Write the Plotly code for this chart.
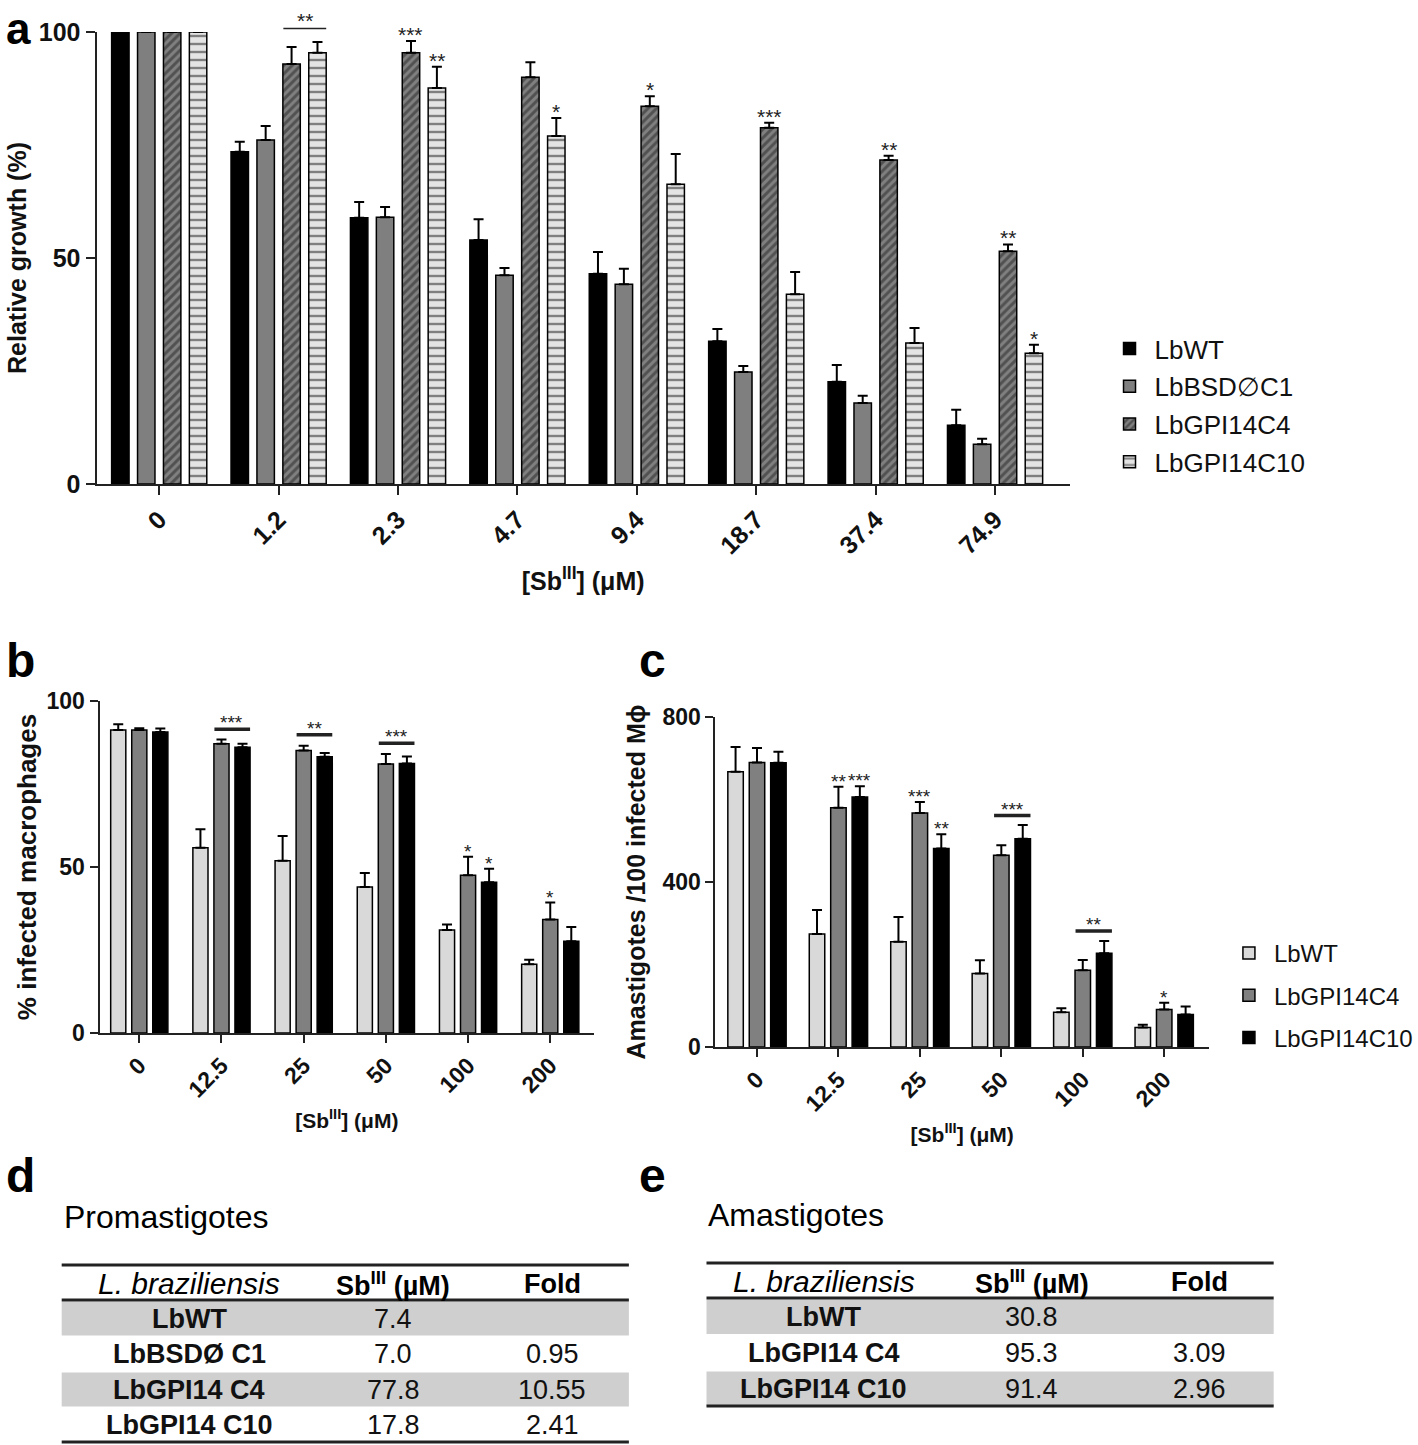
import plotly.graph_objects as go

# ---------------- data ----------------
# Panel a: relative growth of promastigotes
conc_a = ["0", "1.2", "2.3", "4.7", "9.4", "18.7", "37.4", "74.9"]
names_a = ["LbWT", "LbBSD\u2205C1", "LbGPI14C4", "LbGPI14C10"]
wt_a = [100, 73.5, 58.9, 54.0, 46.5, 31.6, 22.6, 13.0]
wt_a_err = [0, 2.2, 3.5, 4.6, 4.8, 2.7, 3.7, 3.4]
bsd_a = [100, 76.1, 59.0, 46.2, 44.2, 24.8, 17.9, 8.8]
bsd_a_err = [0, 3.1, 2.3, 1.6, 3.4, 1.3, 1.6, 1.2]
c4_a = [100, 92.9, 95.4, 90.0, 83.6, 78.8, 71.7, 51.5]
c4_a_err = [0, 3.8, 2.6, 3.3, 2.2, 1.1, 0.9, 1.5]
c10_a = [100, 95.4, 87.6, 77.0, 66.3, 42.0, 31.2, 28.9]
c10_a_err = [0, 2.4, 4.7, 4.0, 6.7, 4.9, 3.3, 1.9]
# significance stars: (group index, series index, label)
stars_a = [(2, 2, "***"), (2, 3, "**"), (3, 3, "*"), (4, 2, "*"),
           (5, 2, "***"), (6, 2, "**"), (7, 2, "**"), (7, 3, "*")]
# significance brackets: (group index, first series, last series, height, label)
brackets_a = [(1, 2, 3, 100.8, "**")]

# Panel b: % infected macrophages
conc_bc = ["0", "12.5", "25", "50", "100", "200"]
names_bc = ["LbWT", "LbGPI14C4", "LbGPI14C10"]
wt_b = [91.3, 55.8, 51.9, 44.0, 31.0, 20.7]
wt_b_err = [1.7, 5.6, 7.4, 4.2, 1.7, 1.4]
c4_b = [91.3, 87.1, 85.1, 81.0, 47.5, 34.2]
c4_b_err = [0.5, 1.3, 1.4, 3.0, 5.6, 5.1]
c10_b = [90.7, 86.1, 83.2, 81.2, 45.4, 27.6]
c10_b_err = [1.0, 1.0, 1.1, 2.1, 4.1, 4.3]
stars_b = [(4, 1, "*"), (4, 2, "*"), (5, 1, "*")]
brackets_b = [(1, 1, 2, 91.5, "***"), (2, 1, 2, 89.8, "**"), (3, 1, 2, 87.3, "***")]

# Panel c: amastigotes / 100 infected macrophages
wt_c = [667, 274, 255, 178, 84, 47]
wt_c_err = [60, 58, 60, 32, 10, 7]
c4_c = [690, 580, 567, 465, 186, 91]
c4_c_err = [35, 51, 27, 24, 25, 16]
c10_c = [689, 606, 481, 505, 227, 79]
c10_c_err = [27, 26, 35, 33, 30, 19]
stars_c = [(1, 1, "**"), (1, 2, "***"), (2, 1, "***"), (2, 2, "**"), (5, 1, "*")]
brackets_c = [(3, 1, 2, 561, "***"), (4, 1, 2, 281, "**")]

# Tables d and e
tab_header = ["<i>L. braziliensis</i>", "<b>Sb<sup>III</sup> (\u00b5M)</b>", "<b>Fold</b>"]
tab_d_strain = ["LbWT", "LbBSD\u00d8 C1", "LbGPI14 C4", "LbGPI14 C10"]
tab_d_sb = ["7.4", "7.0", "77.8", "17.8"]
tab_d_fold = ["", "0.95", "10.55", "2.41"]
tab_e_strain = ["LbWT", "LbGPI14 C4", "LbGPI14 C10"]
tab_e_sb = ["30.8", "95.3", "91.4"]
tab_e_fold = ["", "3.09", "2.96"]

# ---------------- style ----------------
FONT = "Liberation Sans Narrow, Liberation Sans, Arial, sans-serif"
FONT_W = "Liberation Sans, Arial, sans-serif"
W, H = 1418, 1445

fig = go.Figure()

styles_a = [
    dict(color="#000000"),
    dict(color="#7f7f7f"),
    dict(color="#808080", pattern=dict(shape="/", fgcolor="#222222", bgcolor="#808080", size=6, solidity=0.5)),
    dict(color="#e4e4e4", pattern=dict(shape="-", fgcolor="#1a1a1a", bgcolor="#e4e4e4", size=8, solidity=0.3)),
]
styles_bc = [dict(color="#d9d9d9"), dict(color="#808080"), dict(color="#000000")]

# axis geometry (paper px)
GEOM = {
    "a": dict(x0=97, x1=1075, ytop=32, ybot=484, xr=[-0.525, 7.625], yr=[0, 100]),
    "b": dict(x0=100, x1=597, ytop=701, ybot=1033, xr=[-0.484, 5.533], yr=[0, 100]),
    "c": dict(x0=719, x1=1215, ytop=717, ybot=1047, xr=[-0.51, 5.55], yr=[0, 800]),
}


def add_panel(series, errs, names, styles, xa, ya, pitch, width, legend, showlegend):
    n = len(series)
    for i, (vals, er, nm, st) in enumerate(zip(series, errs, names, styles)):
        centre = (i - (n - 1) / 2) * pitch
        fig.add_trace(go.Bar(
            x=list(range(len(vals))), y=vals, name=nm,
            width=width, offset=centre - width / 2,
            marker=dict(line=dict(color="#000000", width=1.5), **st),
            error_y=dict(type="data", array=er, arrayminus=[0] * len(er), symmetric=False,
                         color="#000000", thickness=2, width=5),
            xaxis=xa, yaxis=ya, legend=legend, showlegend=showlegend,
            legendgroup=nm + legend,
        ))


def add_sig(series, errs, stars, brackets, n, pitch, width, xa, ya, geom, fsize, lw):
    ymax = geom["yr"][1]
    px_per = (geom["ybot"] - geom["ytop"]) / (geom["yr"][1] - geom["yr"][0])

    def clamp(v):
        # keep anchor inside the axis range, shift the rest in pixels
        if v > ymax:
            return ymax, (v - ymax) * px_per
        return v, 0

    for g, s, lab in stars:
        centre = g + (s - (n - 1) / 2) * pitch
        yv, sh = clamp(series[s][g] + errs[s][g])
        fig.add_annotation(x=centre, y=yv, xref=xa, yref=ya,
                           text=lab, showarrow=False, yanchor="bottom", yshift=sh - 7,
                           font=dict(family=FONT_W, size=fsize, color="#222"))
    for g, s0, s1, h, lab in brackets:
        x0 = g + (s0 - (n - 1) / 2) * pitch - width / 2
        x1 = g + (s1 - (n - 1) / 2) * pitch + width / 2
        yv, sh = clamp(h)
        fig.add_annotation(x=x1, y=yv, ax=x0, ay=yv, xref=xa, yref=ya, axref=xa, ayref=ya,
                           text="", showarrow=True, arrowhead=0, arrowwidth=lw,
                           arrowcolor="#222", standoff=0, startstandoff=0, borderpad=0,
                           yshift=sh)
        fig.add_annotation(x=(x0 + x1) / 2, y=yv, xref=xa, yref=ya, text=lab,
                           showarrow=False, yanchor="bottom", yshift=sh - 6,
                           font=dict(family=FONT_W, size=fsize, color="#222"))


# Panel a
P_A, W_A = 0.217, 0.146
ser_a = [wt_a, bsd_a, c4_a, c10_a]
err_a = [wt_a_err, bsd_a_err, c4_a_err, c10_a_err]
add_panel(ser_a, err_a, names_a, styles_a, "x", "y", P_A, W_A, "legend", True)
add_sig(ser_a, err_a, stars_a, brackets_a, 4, P_A, W_A, "x", "y", GEOM["a"], 21, 1.5)

# Panel b
P_B, W_B = 0.256, 0.184
ser_b = [wt_b, c4_b, c10_b]
err_b = [wt_b_err, c4_b_err, c10_b_err]
add_panel(ser_b, err_b, names_bc, styles_bc, "x2", "y2", P_B, W_B, "legend", False)
add_sig(ser_b, err_b, stars_b, brackets_b, 3, P_B, W_B, "x2", "y2", GEOM["b"], 19, 3.5)

# Panel c
P_C, W_C = 0.263, 0.19
ser_c = [wt_c, c4_c, c10_c]
err_c = [wt_c_err, c4_c_err, c10_c_err]
add_panel(ser_c, err_c, names_bc, styles_bc, "x3", "y3", P_C, W_C, "legend2", True)
add_sig(ser_c, err_c, stars_c, brackets_c, 3, P_C, W_C, "x3", "y3", GEOM["c"], 19, 3.5)

# ---------------- tables (d, e) drawn as text + shapes ----------------
shapes = []
HEAD_SIZES = [30, 27, 27]


def add_table(strains, sbs, folds, title, x0, x1, col_x, ytop, head_h, row_h):
    def py(v):
        return 1 - v / H

    fig.add_annotation(x=x0 / W, y=py(ytop - 48), xref="paper", yref="paper", text=title,
                       showarrow=False, xanchor="left", yanchor="middle",
                       font=dict(family=FONT, size=32, color="#000"))
    yhead = ytop + head_h
    nrow = len(strains)
    for r in range(nrow):
        if r % 2 == 0:
            shapes.append(dict(type="rect", xref="paper", yref="paper", x0=x0 / W, x1=x1 / W,
                               y0=py(yhead + r * row_h + 1.5), y1=py(yhead + (r + 1) * row_h),
                               fillcolor="#cfcfcf", line=dict(width=0), layer="below"))
    for yy in [ytop, yhead, yhead + nrow * row_h]:
        shapes.append(dict(type="line", xref="paper", yref="paper", x0=x0 / W, x1=x1 / W,
                           y0=py(yy), y1=py(yy), line=dict(color="#222", width=3)))
    for c, txt in enumerate(tab_header):
        fig.add_annotation(x=col_x[c] / W, y=py(ytop + head_h / 2 + 1), xref="paper", yref="paper",
                           text=txt, showarrow=False, xanchor="center", yanchor="middle",
                           font=dict(family=FONT, size=HEAD_SIZES[c], color="#000"))
    for r in range(nrow):
        yc = py(yhead + (r + 0.5) * row_h + 1)
        cells = ["<b>%s</b>" % strains[r], sbs[r], folds[r]]
        for c, txt in enumerate(cells):
            if txt in ("", "<b></b>"):
                continue
            fig.add_annotation(x=col_x[c] / W, y=yc, xref="paper", yref="paper",
                               text=txt, showarrow=False, xanchor="center", yanchor="middle",
                               font=dict(family=FONT, size=27, color="#111"))


add_table(tab_d_strain, tab_d_sb, tab_d_fold, "Promastigotes", 62, 632, [190, 395, 555], 1265, 35, 35.5)
add_table(tab_e_strain, tab_e_sb, tab_e_fold, "Amastigotes", 710, 1280, [828, 1037, 1205], 1263, 35, 36)

axis_common = dict(showline=True, linecolor="#222", linewidth=2, ticks="outside",
                   tickwidth=2, tickcolor="#222", showgrid=False, zeroline=False,
                   automargin=False,
                   tickfont=dict(family=FONT, size=23, color="#111"))

sb_title = "<b>[Sb<sup>III</sup>] (\u03bcM)</b>"


def xdom(k):
    return [GEOM[k]["x0"] / W, GEOM[k]["x1"] / W]


def ydom(k):
    return [1 - GEOM[k]["ybot"] / H, 1 - GEOM[k]["ytop"] / H]


fig.update_layout(
    width=W, height=H, margin=dict(l=0, r=0, t=0, b=0, pad=0), autosize=False,
    paper_bgcolor="white", plot_bgcolor="white",
    barmode="overlay", showlegend=True,
    font=dict(family=FONT, color="#111"),
    xaxis=dict(domain=xdom("a"), range=GEOM["a"]["xr"], anchor="y",
               tickvals=list(range(len(conc_a))), ticktext=["<b>%s</b>" % c for c in conc_a],
               tickangle=-45, ticklen=9,
               title=dict(text=sb_title, font=dict(family=FONT_W, size=25), standoff=14),
               **{**axis_common, "tickfont": dict(family=FONT, size=25, color="#111")}),
    yaxis=dict(domain=ydom("a"), range=GEOM["a"]["yr"], anchor="x",
               tickvals=[0, 50, 100], ticktext=["<b>0</b>", "<b>50</b>", "<b>100</b>"], ticklen=9,
               title=dict(text="<b>Relative growth (%)</b>", font=dict(family=FONT_W, size=25), standoff=5),
               **{**axis_common, "tickfont": dict(family=FONT, size=25, color="#111")}),
    xaxis2=dict(domain=xdom("b"), range=GEOM["b"]["xr"], anchor="y2",
                tickvals=list(range(len(conc_bc))), ticktext=["<b>%s</b>" % c for c in conc_bc],
                tickangle=-45, ticklen=8,
                title=dict(text=sb_title, font=dict(family=FONT_W, size=21), standoff=12),
                **axis_common),
    yaxis2=dict(domain=ydom("b"), range=GEOM["b"]["yr"], anchor="x2",
                tickvals=[0, 50, 100], ticktext=["<b>0</b>", "<b>50</b>", "<b>100</b>"], ticklen=8,
                title=dict(text="<b>% infected macrophages</b>", font=dict(family=FONT_W, size=26), standoff=2),
                **axis_common),
    xaxis3=dict(domain=xdom("c"), range=GEOM["c"]["xr"], anchor="y3",
                tickvals=list(range(len(conc_bc))), ticktext=["<b>%s</b>" % c for c in conc_bc],
                tickangle=-45, ticklen=8,
                title=dict(text=sb_title, font=dict(family=FONT_W, size=21), standoff=12),
                **axis_common),
    yaxis3=dict(domain=ydom("c"), range=GEOM["c"]["yr"], anchor="x3",
                tickvals=[0, 400, 800], ticktext=["<b>0</b>", "<b>400</b>", "<b>800</b>"], ticklen=8,
                title=dict(text="<b>Amastigotes /100 infected M\u03d5</b>", font=dict(family=FONT_W, size=25), standoff=10),
                **axis_common),
    legend=dict(x=1110 / W, y=1 - 325 / H, xanchor="left", yanchor="top",
                font=dict(family=FONT, size=26, color="#111"), bgcolor="rgba(0,0,0,0)",
                itemwidth=40, tracegroupgap=1),
    legend2=dict(x=1230 / W, y=1 - 931 / H, xanchor="left", yanchor="top",
                 font=dict(family=FONT, size=24, color="#111"), bgcolor="rgba(0,0,0,0)",
                 itemwidth=40, tracegroupgap=8),
    shapes=shapes,
)

# panel letters
for lab, x, y, fs in [("a", 4, 29, 44), ("b", 4, 660, 48), ("c", 640, 660, 48),
                      ("d", 4, 1175, 48), ("e", 640, 1175, 48)]:
    fig.add_annotation(x=x / W, y=1 - y / H, xref="paper", yref="paper", text="<b>%s</b>" % lab,
                       showarrow=False, xanchor="left", yanchor="middle",
                       font=dict(family=FONT_W, size=fs, color="#000"))

fig.write_html("out.html", config={"displayModeBar": False},
               post_script="document.body.style.margin='0';document.body.style.padding='0';")
